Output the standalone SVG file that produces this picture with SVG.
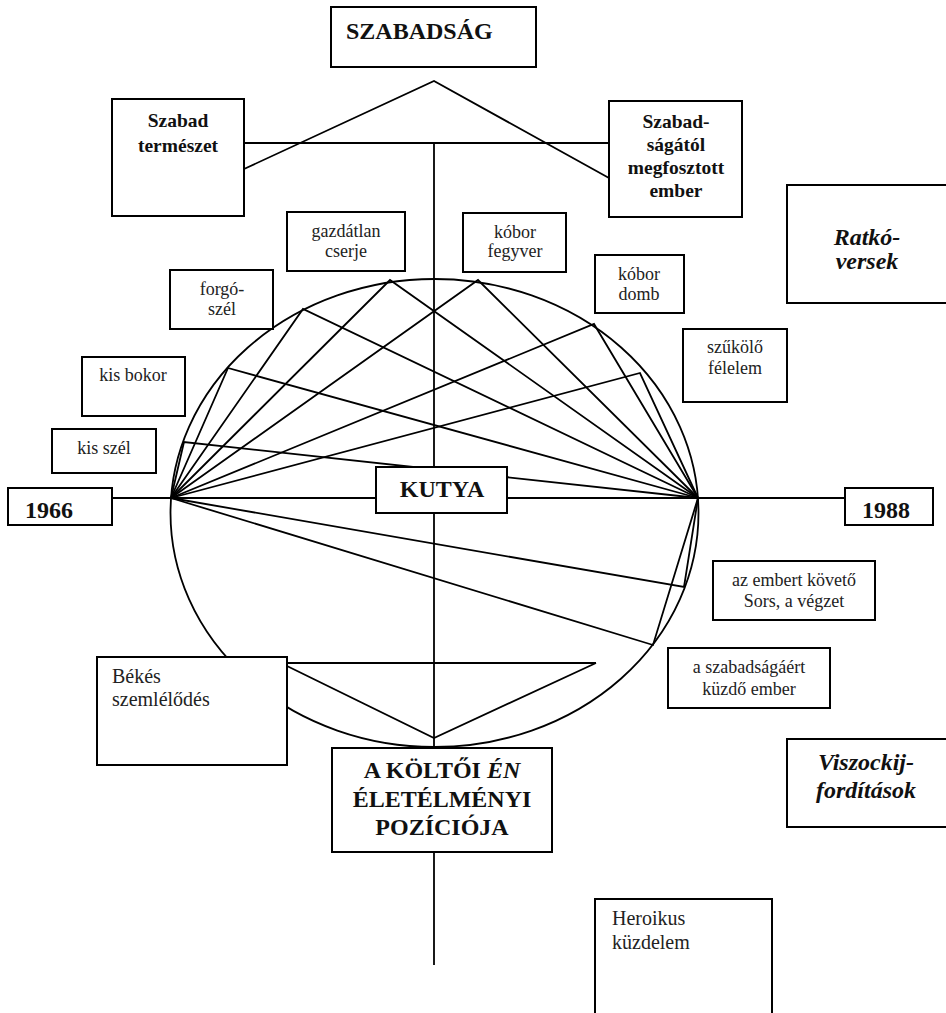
<svg xmlns="http://www.w3.org/2000/svg" width="946" height="1013" viewBox="0 0 946 1013">
<style>
.box{fill:#fff;stroke:#000;stroke-width:2}
.ln{fill:none;stroke:#000;stroke-width:1.8}
.big{font-family:"Liberation Serif",serif;font-weight:bold;font-size:24px;fill:#111}
.med{font-family:"Liberation Serif",serif;font-weight:bold;font-size:19.5px;fill:#111}
.it{font-family:"Liberation Serif",serif;font-weight:bold;font-style:italic;font-size:24px;fill:#111}
.sm{font-family:"Liberation Serif",serif;font-size:18px;fill:#222}
.rg{font-family:"Liberation Serif",serif;font-size:20px;fill:#222}
</style>
<rect width="946" height="1013" fill="#fff"/>
<g id="connectors" class="ln">
  <polyline points="244,169 434,81 609,178"/>
  <line x1="244" y1="143" x2="609" y2="143"/>
  <line x1="434" y1="143" x2="434" y2="748"/>
  <line x1="434" y1="852" x2="434" y2="965"/>
  <line x1="112" y1="498" x2="845" y2="498"/>
  <ellipse cx="434.5" cy="513" rx="264" ry="234"/>
  <polyline points="171,498 184,442 698,498"/>
  <polyline points="171,498 228,368 698,498"/>
  <polyline points="171,498 303,309 698,498"/>
  <polyline points="171,498 390,280 698,498"/>
  <polyline points="171,498 478,280 698,498"/>
  <polyline points="171,498 594,324 698,498"/>
  <polyline points="171,498 640,373 698,498"/>
  <polyline points="171,498 684,587 698,498"/>
  <polyline points="171,498 653,645 698,498"/>
  <line x1="287" y1="663" x2="596" y2="663"/>
  <polyline points="287,666 434,738 596,663"/>
</g>
<g id="szabadsag"><rect class="box" x="331" y="7" width="205" height="60"/><text class="big" x="346" y="39">SZABADSÁG</text></g>
<g id="szabad-termeszet"><rect class="box" x="112" y="99" width="132" height="117"/><text class="med" text-anchor="middle"><tspan x="178" y="127">Szabad</tspan><tspan x="178" y="152">természet</tspan></text></g>
<g id="szabadsagatol"><rect class="box" x="609" y="101" width="133" height="116"/><text class="med" text-anchor="middle"><tspan x="676" y="128">Szabad-</tspan><tspan x="676" y="151">ságától</tspan><tspan x="676" y="174">megfosztott</tspan><tspan x="676" y="197">ember</tspan></text></g>
<g id="ratko"><rect class="box" x="787" y="185" width="170" height="118"/><text class="it" text-anchor="middle"><tspan x="867" y="245">Ratkó-</tspan><tspan x="867" y="269">versek</tspan></text></g>
<g id="gazdatlan"><rect class="box" x="287" y="212" width="118" height="59"/><text class="sm" text-anchor="middle"><tspan x="346" y="237">gazdátlan</tspan><tspan x="346" y="257">cserje</tspan></text></g>
<g id="kobor-fegyver"><rect class="box" x="463" y="213" width="103" height="59"/><text class="sm" text-anchor="middle"><tspan x="515" y="238">kóbor</tspan><tspan x="515" y="257">fegyver</tspan></text></g>
<g id="kobor-domb"><rect class="box" x="595" y="255" width="89" height="58"/><text class="sm" text-anchor="middle"><tspan x="639" y="280">kóbor</tspan><tspan x="639" y="300">domb</tspan></text></g>
<g id="forgo-szel"><rect class="box" x="170" y="270" width="103" height="59"/><text class="sm" text-anchor="middle"><tspan x="222" y="295">forgó-</tspan><tspan x="222" y="315">szél</tspan></text></g>
<g id="szukolo"><rect class="box" x="683" y="329" width="104" height="73"/><text class="sm" text-anchor="middle"><tspan x="735" y="353">szűkölő</tspan><tspan x="735" y="374">félelem</tspan></text></g>
<g id="kis-bokor"><rect class="box" x="82" y="357" width="103" height="59"/><text class="sm" x="133" y="381" text-anchor="middle">kis bokor</text></g>
<g id="kis-szel"><rect class="box" x="52" y="429" width="104" height="44"/><text class="sm" x="104" y="454" text-anchor="middle">kis szél</text></g>
<g id="y1966"><rect class="box" x="8" y="488" width="104" height="37"/><text class="big" x="25" y="518">1966</text></g>
<g id="y1988"><rect class="box" x="845" y="488" width="88" height="37"/><text class="big" x="862" y="518">1988</text></g>
<g id="kutya"><rect class="box" x="376" y="467" width="131" height="46"/><text class="big" x="442" y="497" text-anchor="middle">KUTYA</text></g>
<g id="az-embert"><rect class="box" x="713" y="561" width="162" height="59"/><text class="sm" font-size="18.5" text-anchor="middle"><tspan x="794" y="586">az embert követő</tspan><tspan x="794" y="607">Sors, a végzet</tspan></text></g>
<g id="szabadsagaert"><rect class="box" x="668" y="648" width="162" height="60"/><text class="sm" font-size="18.5" text-anchor="middle"><tspan x="749" y="673">a szabadságáért</tspan><tspan x="749" y="695">küzdő ember</tspan></text></g>
<g id="bekes"><rect class="box" x="97" y="657" width="190" height="108"/><text class="rg"><tspan x="112" y="683">Békés</tspan><tspan x="112" y="706">szemlélődés</tspan></text></g>
<g id="viszockij"><rect class="box" x="787" y="739" width="170" height="88"/><text class="it" text-anchor="middle"><tspan x="866" y="770">Viszockij-</tspan><tspan x="866" y="798">fordítások</tspan></text></g>
<g id="kolto"><rect class="box" x="332" y="748" width="220" height="104"/><text class="big" text-anchor="middle"><tspan x="442" y="778">A KÖLTŐI <tspan font-style="italic">ÉN</tspan></tspan><tspan x="442" y="807">ÉLETÉLMÉNYI</tspan><tspan x="442" y="835">POZÍCIÓJA</tspan></text></g>
<g id="heroikus"><rect class="box" x="595" y="899" width="177" height="130"/><text class="rg"><tspan x="612" y="925">Heroikus</tspan><tspan x="612" y="949">küzdelem</tspan></text></g>
</svg>
